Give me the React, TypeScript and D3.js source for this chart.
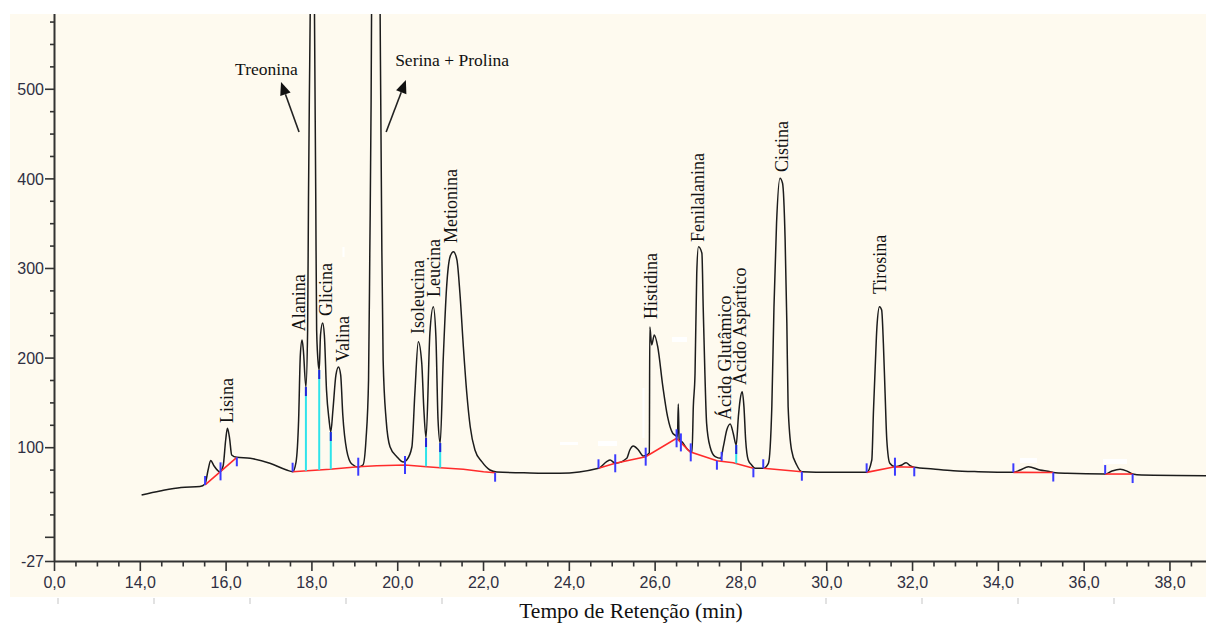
import React, { useEffect } from "react";
import * as d3 from "d3";

const W = 1206;
const H = 626;

// Chromatogram trace: retention time (min), detector response
const trace: [number, number][] = [
  [14.03, 47.2], [14.46, 51.7], [14.95, 55.7], [15.39, 56.7], [15.51, 59.5],
  [15.58, 75.1], [15.64, 85.7], [15.72, 79.6], [15.85, 73.2], [15.93, 79.6],
  [15.99, 108.6], [16.03, 121.7], [16.08, 110.8], [16.13, 91.9], [16.25, 89.3],
  [16.56, 88.2], [17.02, 82.6], [17.41, 75.1], [17.55, 73.2], [17.63, 84.0],
  [17.69, 130.9], [17.73, 203.5], [17.77, 220.2], [17.80, 209.0], [17.86, 167.7],
  [17.9, 231.4], [17.92, 376.5], [17.94, 488.0], [17.96, 584.0], [18.01, 1000],
  [18.06, 584.0], [18.09, 376.5], [18.11, 231.4], [18.15, 192.3], [18.17, 186.7],
  [18.2, 225.8], [18.25, 239.2], [18.29, 225.8], [18.34, 164.4], [18.4, 131.0],
  [18.44, 117.5], [18.49, 142.1], [18.56, 181.2], [18.62, 190.1], [18.67, 181.2],
  [18.72, 136.5], [18.81, 97.4], [18.93, 81.8], [19.08, 78.5], [19.19, 80.7],
  [19.26, 108.6], [19.32, 175.6], [19.35, 320.6], [19.38, 488.0], [19.39, 584.0],
  [19.49, 1400], [19.59, 584.0], [19.63, 320.6], [19.66, 198.0], [19.73, 131.0],
  [19.82, 101.1], [19.98, 90.0], [20.13, 84.0], [20.21, 86.3], [20.33, 100.8],
  [20.4, 161.0], [20.48, 218.3], [20.56, 194.5], [20.61, 142.1], [20.66, 110.8],
  [20.75, 228.0], [20.83, 257.4], [20.89, 223.9], [20.94, 130.9], [20.99, 105.2],
  [21.06, 197.9], [21.14, 279.7], [21.22, 313.2], [21.3, 318.8], [21.38, 309.5],
  [21.45, 272.3], [21.53, 212.7], [21.61, 160.7], [21.69, 123.4], [21.8, 97.4],
  [21.96, 84.4], [22.15, 75.1], [22.31, 72.9], [23.08, 71.8], [23.78, 71.4],
  [24.68, 77.0], [24.87, 84.4], [24.95, 86.3], [25.07, 82.6], [25.34, 88.2],
  [25.41, 97.4], [25.49, 101.9], [25.61, 97.4], [25.72, 90.7], [25.81, 91.9],
  [25.865, 94.1], [25.876, 234.7], [25.92, 214.6], [25.98, 225.8], [26.06, 212.7],
  [26.18, 168.1], [26.29, 134.6], [26.41, 116.1], [26.48, 113.5], [26.52, 112.0],
  [26.54, 148.8], [26.56, 108.6], [26.62, 106.7], [26.77, 97.4], [26.86, 95.2],
  [26.89, 145.8], [26.93, 183.0], [26.97, 294.6], [27.01, 324.3], [27.09, 317.0],
  [27.12, 257.4], [27.16, 183.0], [27.2, 127.2], [27.28, 101.1], [27.4, 90.0],
  [27.53, 88.2], [27.59, 101.1], [27.67, 119.8], [27.75, 126.5], [27.82, 116.1],
  [27.89, 103.0], [27.94, 134.6], [27.98, 153.2], [28.03, 162.5], [28.07, 145.8],
  [28.11, 108.6], [28.17, 86.3], [28.25, 80.7], [28.33, 77.0], [28.52, 77.0],
  [28.64, 82.6], [28.72, 145.8], [28.77, 257.4], [28.83, 350.4], [28.91, 400.7],
  [28.97, 395.1], [29.03, 331.8], [29.07, 238.8], [29.1, 145.8], [29.18, 97.4],
  [29.3, 80.7], [29.42, 73.2], [30.08, 72.5], [30.93, 72.5], [31.05, 86.3],
  [31.09, 142.1], [31.13, 190.4], [31.17, 235.0], [31.23, 257.4], [31.28, 253.7],
  [31.32, 216.5], [31.36, 160.7], [31.4, 108.6], [31.47, 82.6], [31.59, 78.8],
  [31.75, 80.7], [31.85, 83.3], [31.94, 80.1], [32.04, 78.1], [32.48, 76.2],
  [32.95, 74.3], [33.53, 73.2], [34.35, 72.5], [34.51, 75.1], [34.7, 78.8],
  [34.97, 75.1], [35.21, 73.2], [35.28, 72.3], [35.6, 71.4], [36.49, 70.6],
  [36.65, 73.9], [36.84, 75.9], [37.0, 73.9], [37.13, 70.6], [37.34, 69.5],
  [38.84, 68.8],
];

// Integration baselines under each peak group
const baselines: [number, number][][] = [
  [[15.51, 58.4], [16.25, 89.3]],
  [[17.55, 73.2], [18.42, 75.9], [19.08, 78.8], [19.51, 79.9], [20.17, 80.7],
   [20.67, 78.8], [20.99, 77.7], [21.53, 75.9], [22.0, 73.2], [22.27, 72.1]],
  [[24.68, 77.0], [25.07, 82.6], [25.78, 90.0], [26.5, 110.5], [26.81, 95.5],
   [27.44, 85.5], [27.82, 83.3], [28.29, 77.0]],
  [[28.52, 77.0], [29.42, 73.2]],
  [[30.93, 72.5], [31.59, 78.8], [32.04, 78.1]],
  [[34.35, 72.5], [35.28, 72.3]],
  [[36.49, 70.6], [37.13, 70.6]],
];

// Peak start / end delimiters on the baseline
const delimiters: [number, number, string][] = [
  [15.51, 58.4, "start"], [15.87, 73.6, "both"], [16.25, 89.3, "end"],
  [17.55, 73.2, "start"], [19.08, 78.8, "both"], [20.17, 80.7, "both"],
  [22.27, 72.1, "end"],
  [24.68, 77.0, "start"], [25.07, 82.6, "both"], [25.78, 90.0, "both"],
  [26.5, 110.5, "both"], [26.6, 105.9, "both"], [26.83, 94.8, "both"],
  [27.44, 85.5, "end"], [27.55, 85.3, "start"], [28.29, 77.0, "end"],
  [28.52, 77.0, "start"], [29.42, 73.2, "end"],
  [30.93, 72.5, "start"], [31.59, 78.8, "both"], [32.04, 78.1, "end"],
  [34.35, 72.5, "start"], [35.28, 72.3, "end"],
  [36.49, 70.6, "start"], [37.13, 70.6, "end"],
];

// Perpendicular drops between unresolved peaks: time, valley, baseline
const drops: [number, number, number][] = [
  [17.86, 167.7, 74.2], [18.17, 186.7, 75.1], [18.44, 117.5, 75.9],
  [20.66, 110.8, 79.2], [20.99, 105.2, 77.7], [27.89, 103.0, 82.5],
];

// Peak names written upright beside their peaks: name, time, response
const peakNames: [string, number, number][] = [
  ["Lisina", 16.16, 127.6],
  ["Alanina", 17.84, 230.0],
  ["Glicina", 18.47, 247.0],
  ["Valina", 18.86, 195.6],
  ["Isoleucina", 20.61, 226.9],
  ["Leucina", 20.99, 268.2],
  ["Metionina", 21.38, 328.5],
  ["Histidina", 26.04, 243.6],
  ["Fenilalanina", 27.14, 329.6],
  ["Ácido Glutâmico", 27.77, 130.9],
  ["Ácido Aspártico", 28.12, 170.0],
  ["Cistina", 29.1, 407.7],
  ["Tirosina", 31.38, 271.5],
];

// Off-scale peaks named with an arrow
const arrowNames = [
  { name: "Treonina", text: [16.21, 516.0], from: [17.7, 452.3], to: [17.28, 508.1] },
  { name: "Serina + Prolina", text: [19.94, 526.0], from: [19.73, 452.3], to: [20.19, 510.3] },
];

const xMajor = d3.range(12, 39, 2);
const xMinor = d3.range(12, 38.84, 0.5).filter((t) => Math.abs(t % 2) > 1e-6);
const xTickText = (t: number) => (t === 12 ? "0,0" : t.toFixed(1).replace(".", ","));
const yMajor = [-27, 0, 100, 200, 300, 400, 500];
const yLabelled = [-27, 100, 200, 300, 400, 500];
const yMinor = d3.range(25, 584, 25).filter((v) => v % 100 !== 0);

// small blank patches left over on the plot face: x, y, width, height (px)
const blankPatches: [number, number, number, number][] = [
  [560, 442, 18, 3], [598, 441, 19, 5], [672, 337, 15, 5],
  [1020, 458, 17, 5], [1103, 459, 24, 5], [342.5, 247, 2, 10], [642.5, 388, 2, 50],
];

export default function App() {
  useEffect(() => {
    document.body.style.margin = "0";
  }, []);

  const x = d3.scaleLinear().domain([12, 38.84]).range([54.5, 1206]);
  const y = d3.scaleLinear().domain([-27, 584]).range([561.5, 14]);

  const line = d3
    .line<[number, number]>()
    .x((d) => x(d[0]))
    .y((d) => y(d[1]))
    .curve(d3.curveMonotoneX);
  const straight = d3
    .line<[number, number]>()
    .x((d) => x(d[0]))
    .y((d) => y(d[1]));

  const axisColor = "#333";
  const tickFont = "'Liberation Sans', Arial, sans-serif";
  const serif = "'Liberation Serif', 'Times New Roman', serif";

  return (
    <div style={{ position: "absolute", left: 0, top: 0 }}>
      <svg width={W} height={H} style={{ display: "block", background: "#fff" }}>
        <defs>
          <clipPath id="plotArea">
            <rect x={55} y={14} width={W - 55} height={547} />
          </clipPath>
        </defs>
        <rect x={10} y={14} width={W - 10} height={583} fill="#fefaef" />

        {/* faint marks under the axis strip */}
        {d3.range(0, 12).filter((k) => k < 5 || k > 7).map((k) => (
          <line key={"fm" + k} x1={58 + 96 * k} x2={58 + 96 * k} y1={598} y2={604}
            stroke="#d8d8d8" strokeWidth={1.5} />
        ))}

        {/* y axis */}
        <line x1={54.5} x2={54.5} y1={14} y2={562} stroke={axisColor} strokeWidth={2} />
        {yMajor.map((v) => (
          <line key={"ym" + v} x1={45} x2={54.5} y1={y(v)} y2={y(v)} stroke={axisColor} strokeWidth={1.6} />
        ))}
        {yMinor.map((v) => (
          <line key={"yn" + v} x1={50} x2={54.5} y1={y(v)} y2={y(v)} stroke={axisColor} strokeWidth={1.6} />
        ))}
        {yLabelled.map((v) => (
          <text key={"yl" + v} x={44} y={y(v)} dy="0.36em" textAnchor="end"
            fontFamily={tickFont} fontSize={16} fill="#2f2f42">{v}</text>
        ))}

        {/* x axis */}
        <line x1={54.5} x2={W} y1={561.5} y2={561.5} stroke={axisColor} strokeWidth={2} />
        {xMajor.map((t) => (
          <line key={"xm" + t} x1={x(t)} x2={x(t)} y1={561.5} y2={571} stroke={axisColor} strokeWidth={1.6} />
        ))}
        {xMinor.map((t) => (
          <line key={"xn" + t} x1={x(t)} x2={x(t)} y1={561.5} y2={566.5} stroke={axisColor} strokeWidth={1.6} />
        ))}
        {xMajor.map((t) => (
          <text key={"xl" + t} x={x(t)} y={588} textAnchor="middle"
            fontFamily={tickFont} fontSize={16} fill="#2f2f42">{xTickText(t)}</text>
        ))}
        <text x={631} y={618} textAnchor="middle" fontFamily={serif} fontSize={21.5} fill="#111">
          Tempo de Retenção (min)
        </text>

        <g clipPath="url(#plotArea)">
          {/* detector signal */}
          <path d={line(trace) ?? ""} fill="none" stroke="#1c1c1c" strokeWidth={1.5} strokeLinejoin="round" />

          {/* integration baselines */}
          {baselines.map((seg, i) => (
            <path key={"bl" + i} d={straight(seg) ?? ""} fill="none" stroke="#ff2b2b" strokeWidth={1.6} />
          ))}

          {/* drop lines */}
          {drops.map(([t, top, base]) => (
            <g key={"dr" + t}>
              <line x1={x(t)} x2={x(t)} y1={y(top)} y2={y(base)} stroke="#2fe3ea" strokeWidth={2} />
              <line x1={x(t)} x2={x(t)} y1={y(top)} y2={y(top) + 9} stroke="#2323d8" strokeWidth={2} />
            </g>
          ))}

          {/* peak delimiters */}
          {delimiters.map(([t, v, kind]) => {
            const py = y(v);
            const y1 = kind === "end" ? py : py - 9;
            const y2 = kind === "start" ? py : py + 9;
            return (
              <line key={"dl" + t} x1={x(t)} x2={x(t)} y1={y1} y2={y2} stroke="#3b3bff" strokeWidth={2} />
            );
          })}

          {blankPatches.map(([bx, by, bw, bh], i) => (
            <rect key={"bp" + i} x={bx} y={by} width={bw} height={bh} fill="#ffffff" />
          ))}
        </g>

        {/* peak names */}
        {peakNames.map(([name, t, v]) => (
          <text key={name} transform={`translate(${x(t)},${y(v)}) rotate(-90)`}
            fontFamily={serif} fontSize={18} fill="#111">{name}</text>
        ))}

        {/* arrow annotations */}
        {arrowNames.map((a) => {
          const x0 = x(a.from[0]);
          const y0 = y(a.from[1]);
          const x1 = x(a.to[0]);
          const y1 = y(a.to[1]);
          const ang = Math.atan2(y1 - y0, x1 - x0);
          const len = 13;
          const hw = 5.5;
          const bx = x1 - len * Math.cos(ang);
          const by = y1 - len * Math.sin(ang);
          const px = -Math.sin(ang);
          const py = Math.cos(ang);
          const head = `${x1},${y1} ${bx + hw * px},${by + hw * py} ${bx - hw * px},${by - hw * py}`;
          return (
            <g key={a.name}>
              <line x1={x0} y1={y0} x2={bx} y2={by} stroke="#222" strokeWidth={1.6} />
              <polygon points={head} fill="#111" />
              <text x={x(a.text[0])} y={y(a.text[1])} fontFamily={serif} fontSize={17.5} fill="#111">
                {a.name}
              </text>
            </g>
          );
        })}
      </svg>
    </div>
  );
}
